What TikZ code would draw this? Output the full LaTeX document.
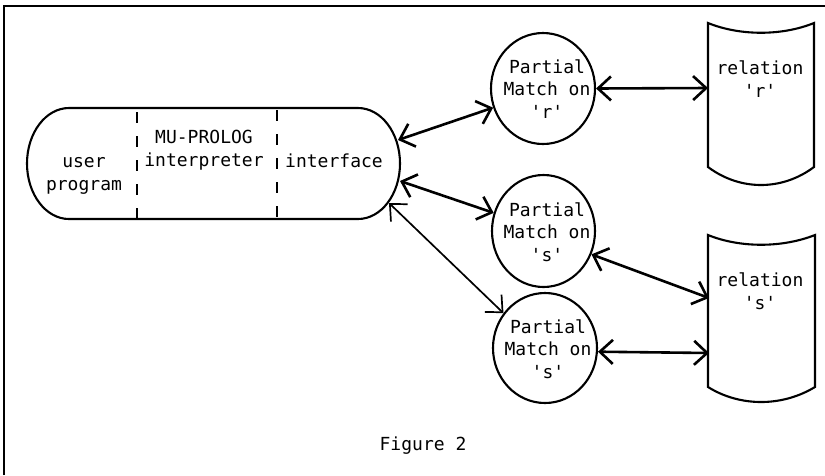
\documentclass[tikz,border=0pt]{standalone}
\usepackage{fontspec}
\newfontfamily\figfont[Ligatures=TeXOff]{DejaVu Sans Mono}
\usetikzlibrary{arrows.meta,shapes.geometric}
\begin{document}
\begin{tikzpicture}[x=1pt,y=-1pt,
  txt/.style={font=\figfont\fontsize{18}{22.5}\selectfont, align=center, inner sep=0pt},
  pm/.style={draw, ellipse, line width=2.1pt, minimum width=104pt, minimum height=111pt, inner sep=0pt},
  shapeline/.style={line width=2.1pt},
  link/.style={line width=2.6pt, {Straight Barb[length=13pt,width=24pt]}-{Straight Barb[length=13pt,width=24pt]}},
  thinlink/.style={link, line width=1.7pt},
  sepline/.style={line width=2pt, dash pattern=on 11pt off 13pt}]

\useasboundingbox (0,0) rectangle (825,475);

% frame
\draw[line width=1.4pt] (4,475) -- (4,6) -- (825,6);

% user program / MU-PROLOG / interface
\draw[shapeline] (69,108) -- (358,108)
  arc[start angle=-90, end angle=90, x radius=42, y radius=55.5]
  -- (69,219)
  arc[start angle=90, end angle=270, x radius=42, y radius=55.5] -- cycle;
\draw[sepline] (137,112) -- (137,218);
\draw[sepline] (277,110) -- (277,218);
\node[txt] (tuser) at (84,176) {user\\program};
\node[txt] (tmu) at (204,150) {MU-PROLOG\\interpreter};
\node[txt] (tint) at (334,161) {interface};
\coordinate (st1) at (398,140);
\coordinate (st2) at (400,181);
\coordinate (st3) at (389,203);

% partial match circles
\node[pm] (c1) at (543,88.5) {};
\node[pm, minimum width=103pt, minimum height=112pt] (c2) at (543.5,231) {};
\node[pm, minimum height=110pt] (c3) at (545,348) {};
\node[txt] (t1) at (547,89) {Partial\\Match on\\'r'};
\node[txt] (t2) at (547,232) {Partial\\Match on\\'s'};
\node[txt] (t3) at (548,349) {Partial\\Match on\\'s'};

% relations
\draw[shapeline] (708,23) .. controls (740,36) and (782,36) .. (814,23)
  -- (814,167) .. controls (782,191) and (740,191) .. (708,167) -- cycle;
\draw[shapeline] (708,235) .. controls (740,248) and (782,248) .. (815,235)
  -- (815,387) .. controls (782,407) and (740,407) .. (708,387) -- cycle;
\node[txt] (tr) at (760,79) {relation\\'r'};
\node[txt] (ts) at (760,291) {relation\\'s'};
\coordinate (rr) at (708,88);
\coordinate (rs1) at (709,298);
\coordinate (rs2) at (709,353);

% connectors
\draw[link] (st1) -- (c1.201);
\draw[link] (st2) -- (c2.160);
\draw[thinlink] (st3) -- (c3.140);
\draw[link] (c1.0) -- (rr);
\draw[link] (c2.-26) -- (rs1);
\draw[link] (c3.-4) -- (rs2);

% caption
\node[txt] (cap) at (423,446) {Figure 2};
\end{tikzpicture}
\end{document}
